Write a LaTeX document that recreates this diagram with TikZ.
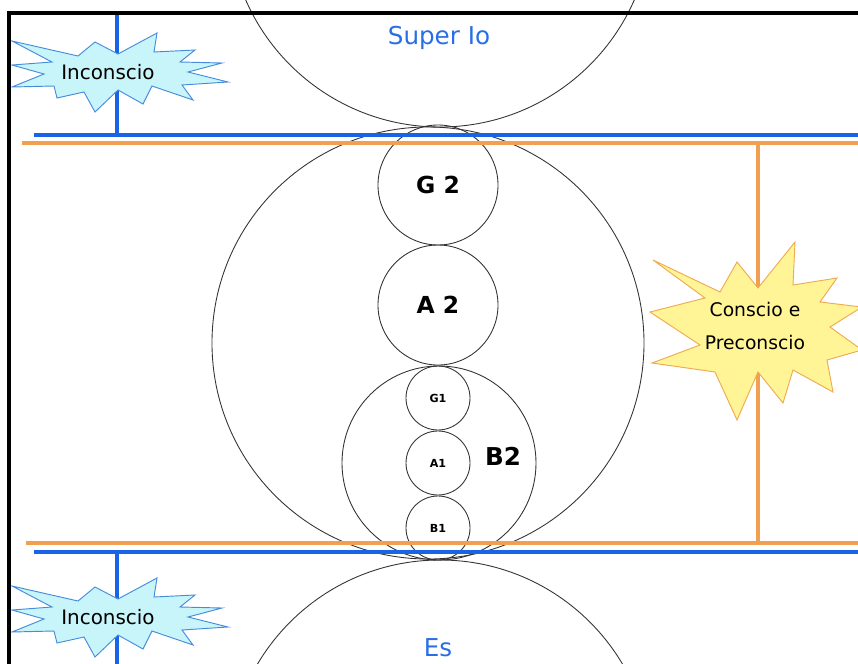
\documentclass[tikz,border=0pt]{standalone}
\usepackage{fontspec}
\setmainfont{DejaVu Sans}

\definecolor{lineblue}{RGB}{25,100,230}
\definecolor{lineorange}{RGB}{240,160,80}
\definecolor{textblue}{RGB}{40,110,230}
\definecolor{icefill}{RGB}{200,245,250}
\definecolor{iceedge}{RGB}{70,140,220}
\definecolor{sunfill}{RGB}{255,245,150}
\definecolor{sunedge}{RGB}{240,170,80}

\tikzset{
  ring/.style={circle, draw=black!80, line width=0.75pt, inner sep=0pt},
  bigbold/.style={font=\bfseries\fontsize{20}{22}\selectfont},
  tinybold/.style={font=\bfseries\fontsize{9.5}{11}\selectfont},
  blueline/.style={lineblue, line width=2.6pt},
  orangeline/.style={lineorange, line width=2.6pt},
  burstlabel/.style={font=\fontsize{17}{20}\selectfont, inner sep=0pt},
  pics/coldburst/.style={code={
    \filldraw[fill=icefill, draw=iceedge, line width=0.8pt]
      (-106,-31) -- (-40,-16) -- (-23,-30) -- (0,-18) -- (39,-39) -- (36,-20)
      -- (77,-22) -- (62,-10) -- (104,-9) -- (70,0) -- (110,10) -- (64,13)
      -- (75,28) -- (34,14) -- (25,32) -- (0,18) -- (-23,40) -- (-34,20)
      -- (-61,26) -- (-64,14) -- (-106,15) -- (-74,2) -- (-106,-7) -- (-66,-10)
      -- cycle;}},
  pics/warmburst/.style={code={
    \filldraw[fill=sunfill, draw=sunedge, line width=0.8pt]
      (-102,-70) -- (-35,-38) -- (-18,-68) -- (3,-42) -- (40,-88) -- (38,-45)
      -- (82,-52) -- (65,-28) -- (107,-23) -- (75,-3) -- (107,20) -- (72,30)
      -- (78,62) -- (38,40) -- (28,73) -- (3,42) -- (-18,90) -- (-40,42)
      -- (-103,33) -- (-55,15) -- (-105,-18) -- (-50,-32)
      -- cycle;}}
}

\begin{document}
\begin{tikzpicture}[x=0.03cm, y=-0.03cm]
  \clip (0,0) rectangle (858,663);

  % outer circles
  \node[ring, minimum size=12.72cm] (superio) at (440,-85) {};
  \node[ring, minimum size=12.72cm] (es) at (440,772) {};
  \node[ring, minimum size=12.96cm] (io) at (428,343) {};

  % inner circles
  \node[ring, bigbold, minimum size=3.6cm] (G2) at (438,185) {G 2};
  \node[ring, bigbold, minimum size=3.6cm] (A2) at (438,305) {A 2};
  \node[ring, minimum size=5.82cm] (B2) at (439,463) {};
  \node[font=\bfseries\fontsize{21}{24}\selectfont] (B2text) at (503,456) {B2};
  \node[ring, tinybold, minimum size=1.92cm] (G1) at (438,398) {G1};
  \node[ring, tinybold, minimum size=1.92cm] (A1) at (438,463) {A1};
  \node[ring, tinybold, minimum size=1.92cm] (B1) at (438,528) {B1};

  \node[textblue, font=\fontsize{21}{24}\selectfont] (superiotext) at (439,38) {Super Io};
  \node[textblue, font=\fontsize{21}{24}\selectfont] (estext) at (438,648) {Es};

  % level lines
  \draw[blueline] (117,14) -- (117,135);
  \draw[blueline] (117,552) -- (117,670);
  \draw[blueline] (34,135) -- (870,135);
  \draw[orangeline] (22,143) -- (870,143);
  \draw[orangeline] (26,543) -- (870,543);
  \draw[blueline] (34,552) -- (870,552);
  \draw[orangeline] (758,143) -- (758,543);

  % labels
  \pic at (118,72) {coldburst};
  \node[burstlabel] (inc1) at (108,72) {Inconscio};
  \pic at (118,617) {coldburst};
  \node[burstlabel] (inc2) at (108,617) {Inconscio};
  \pic at (755,330) {warmburst};
  \node[burstlabel, font=\fontsize{16}{28}\selectfont, align=center] (conscio) at (755,326) {Conscio e\\Preconscio};

  % frame
  \draw[line width=3.4pt] (9,680) -- (9,13) -- (880,13);
\end{tikzpicture}
\end{document}
